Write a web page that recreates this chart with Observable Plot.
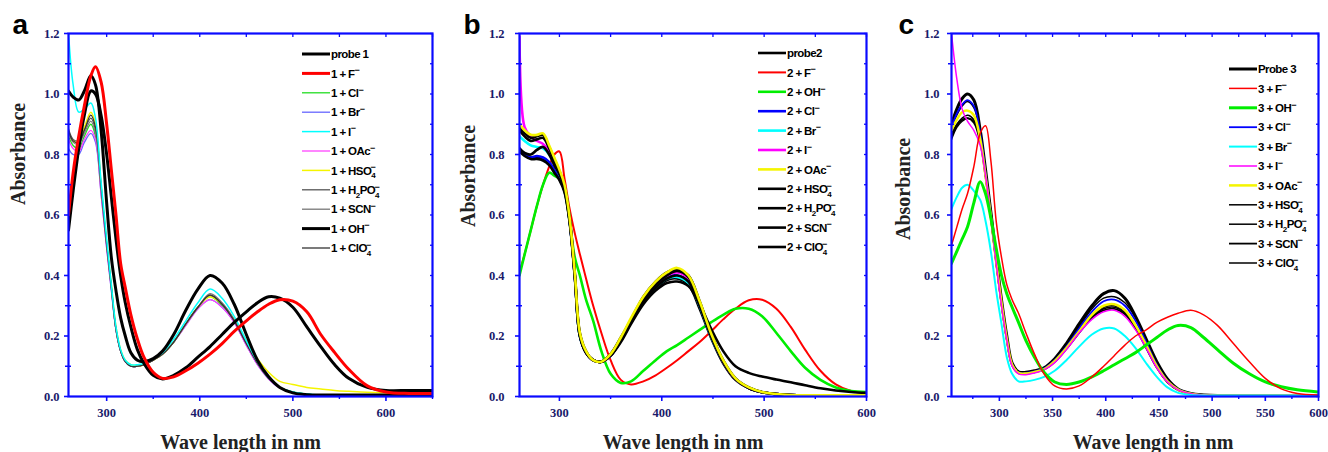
<!DOCTYPE html>
<html><head><meta charset="utf-8">
<script src="https://cdn.jsdelivr.net/npm/d3@7"></script>
<script src="https://cdn.jsdelivr.net/npm/@observablehq/plot@0.6"></script>
<style>
html,body{margin:0;padding:0;background:#fff;}
#wrap{position:relative;width:1328px;height:452px;overflow:hidden;background:#fff;}
.panel{position:absolute;top:0;height:452px;}
.panel svg{position:absolute;left:0;top:0;overflow:visible;}
</style></head><body><div id="wrap"></div>
<script>
// ---------- axis ticks ----------
const yMajor = [0, 0.2, 0.4, 0.6, 0.8, 1.0, 1.2];
const yMinor = [0.1, 0.3, 0.5, 0.7, 0.9, 1.1];
const xMajorA = [300, 400, 500, 600], xMinorA = [350, 450, 550, 650];
const xMajorB = [300, 400, 500, 600], xMinorB = [350, 450, 550];
const xMajorC = [300, 350, 400, 450, 500, 550, 600], xMinorC = [275, 325, 375, 425, 475, 525, 575];
const xLabel = "Wave length in nm", yLabel = "Absorbance";

// ---------- panel a ----------
const wlA = [259,264,270,276,283,288,294,300,305,310,315,320,326,333,340,350,360,372,385,398,411,424,437,450,462,474,486,500,515,530,545,560,580,600,625,650];
const namesA = ["probe 1","1 + F^−","1 + Cl^−","1 + Br^−","1 + I^−","1 + OAc^−","1 + HSO_4^−","1 + H_2PO_4^−","1 + SCN^−","1 + OH^−","1 + ClO_4^−"];
const a_probe = [1.01,0.99,0.98,1.01,1.06,1.03,0.88,0.64,0.46,0.35,0.26,0.20,0.145,0.12,0.115,0.125,0.15,0.205,0.285,0.355,0.40,0.375,0.305,0.205,0.12,0.065,0.03,0.012,0.006,0.005,0.005,0.005,0.005,0.005,0.005,0.005];
const a_F = [0.60,0.74,0.86,0.96,1.06,1.09,1.04,0.90,0.75,0.60,0.44,0.36,0.27,0.19,0.13,0.08,0.06,0.065,0.085,0.11,0.14,0.175,0.215,0.25,0.28,0.305,0.32,0.315,0.28,0.205,0.145,0.09,0.035,0.015,0.01,0.01];
const a_Cl = [0.86,0.83,0.82,0.86,0.90,0.86,0.68,0.50,0.36,0.22,0.15,0.115,0.10,0.10,0.105,0.12,0.14,0.18,0.24,0.295,0.33,0.30,0.25,0.175,0.11,0.06,0.03,0.015,0.008,0.005,0.004,0.004,0.004,0.004,0.004,0.004];
const a_Br = [0.82,0.80,0.80,0.84,0.87,0.84,0.67,0.49,0.35,0.22,0.15,0.115,0.10,0.10,0.105,0.12,0.14,0.18,0.235,0.29,0.32,0.295,0.245,0.17,0.105,0.058,0.028,0.013,0.007,0.005,0.004,0.004,0.004,0.004,0.004,0.004];
const a_I = [1.20,1.03,0.94,0.95,0.97,0.92,0.71,0.52,0.37,0.23,0.155,0.12,0.105,0.105,0.11,0.125,0.145,0.19,0.25,0.31,0.355,0.325,0.265,0.185,0.115,0.062,0.03,0.015,0.008,0.005,0.004,0.004,0.004,0.004,0.004,0.004];
const a_OAc = [0.85,0.82,0.81,0.85,0.88,0.85,0.67,0.49,0.355,0.22,0.15,0.115,0.10,0.10,0.105,0.12,0.14,0.18,0.235,0.29,0.32,0.295,0.245,0.17,0.105,0.058,0.028,0.013,0.007,0.005,0.004,0.004,0.004,0.004,0.004,0.004];
const a_HSO4 = [0.87,0.845,0.84,0.89,0.94,0.90,0.70,0.51,0.37,0.23,0.155,0.12,0.105,0.10,0.105,0.12,0.14,0.18,0.24,0.295,0.33,0.305,0.255,0.185,0.125,0.08,0.05,0.04,0.03,0.025,0.02,0.017,0.014,0.012,0.01,0.01];
const a_H2PO4 = [0.885,0.85,0.845,0.88,0.92,0.88,0.69,0.50,0.36,0.22,0.15,0.115,0.10,0.10,0.105,0.12,0.14,0.18,0.24,0.295,0.335,0.305,0.25,0.175,0.11,0.06,0.03,0.015,0.008,0.005,0.004,0.004,0.004,0.004,0.004,0.004];
const a_SCN = [0.875,0.84,0.835,0.87,0.91,0.87,0.685,0.50,0.36,0.22,0.15,0.115,0.10,0.10,0.105,0.12,0.14,0.18,0.24,0.295,0.34,0.31,0.255,0.18,0.11,0.06,0.03,0.015,0.008,0.005,0.004,0.004,0.004,0.004,0.004,0.004];
const a_OH = [0.55,0.68,0.82,0.93,1.01,1.00,0.93,0.80,0.66,0.52,0.40,0.31,0.23,0.155,0.11,0.07,0.058,0.07,0.095,0.13,0.165,0.205,0.245,0.28,0.31,0.33,0.325,0.295,0.23,0.165,0.105,0.06,0.03,0.02,0.02,0.02];
const a_ClO4 = [0.88,0.845,0.84,0.88,0.93,0.89,0.70,0.505,0.365,0.225,0.15,0.115,0.10,0.10,0.105,0.12,0.14,0.18,0.24,0.295,0.335,0.305,0.25,0.175,0.11,0.06,0.03,0.015,0.008,0.005,0.004,0.004,0.004,0.004,0.004,0.004];

// ---------- panel b ----------
const wlB = [261,266,272,278,284,290,295,300,305,310,315,320,326,333,341,350,360,370,382,394,405,415,426,437,448,460,472,485,498,512,526,540,555,570,585,600];
const namesB = ["probe2","2 + F^−","2 + OH^−","2 + Cl^−","2 + Br^−","2 + I^−","2 + OAc^−","2 + HSO_4^−","2 + H_2PO_4^−","2 + SCN^−","2 + ClO_4^−"];
const b_probe = [0.815,0.80,0.79,0.79,0.785,0.77,0.745,0.72,0.68,0.58,0.40,0.20,0.145,0.12,0.115,0.135,0.185,0.245,0.31,0.355,0.385,0.39,0.37,0.29,0.195,0.11,0.055,0.028,0.014,0.008,0.005,0.004,0.004,0.004,0.004,0.004];
const b_F = [0.41,0.47,0.55,0.63,0.70,0.76,0.80,0.81,0.72,0.62,0.54,0.47,0.39,0.30,0.21,0.12,0.055,0.04,0.05,0.07,0.095,0.12,0.15,0.18,0.215,0.255,0.29,0.318,0.32,0.29,0.23,0.155,0.085,0.04,0.018,0.012];
const b_OH = [0.40,0.47,0.55,0.63,0.70,0.74,0.73,0.72,0.68,0.58,0.46,0.40,0.32,0.25,0.15,0.075,0.045,0.05,0.085,0.12,0.15,0.17,0.195,0.22,0.245,0.27,0.29,0.29,0.265,0.21,0.15,0.095,0.055,0.03,0.018,0.015];
const b_Cl = [0.82,0.80,0.79,0.795,0.79,0.775,0.75,0.725,0.685,0.58,0.40,0.20,0.145,0.12,0.115,0.135,0.19,0.25,0.315,0.365,0.395,0.40,0.38,0.30,0.20,0.115,0.058,0.028,0.014,0.008,0.005,0.004,0.004,0.004,0.004,0.004];
const b_Br = [0.86,0.845,0.83,0.825,0.82,0.80,0.77,0.735,0.69,0.58,0.40,0.20,0.145,0.12,0.115,0.135,0.19,0.25,0.315,0.36,0.39,0.395,0.375,0.30,0.20,0.115,0.058,0.028,0.014,0.008,0.005,0.004,0.004,0.004,0.004,0.004];
const b_I = [1.19,0.89,0.86,0.845,0.835,0.81,0.775,0.74,0.69,0.585,0.40,0.205,0.145,0.12,0.115,0.135,0.19,0.25,0.32,0.37,0.40,0.41,0.39,0.31,0.205,0.115,0.058,0.028,0.014,0.008,0.005,0.004,0.004,0.004,0.004,0.004];
const b_OAc = [0.90,0.88,0.865,0.865,0.87,0.83,0.79,0.75,0.70,0.59,0.41,0.21,0.15,0.12,0.115,0.14,0.195,0.26,0.33,0.38,0.41,0.425,0.40,0.315,0.21,0.12,0.06,0.03,0.015,0.008,0.005,0.004,0.004,0.004,0.004,0.004];
const b_HSO4 = [0.89,0.87,0.855,0.86,0.865,0.825,0.785,0.745,0.695,0.59,0.41,0.21,0.15,0.12,0.115,0.14,0.195,0.255,0.33,0.38,0.41,0.42,0.40,0.315,0.21,0.12,0.06,0.03,0.015,0.008,0.005,0.004,0.004,0.004,0.004,0.004];
const b_H2PO4 = [0.88,0.86,0.845,0.85,0.855,0.82,0.78,0.74,0.695,0.585,0.405,0.205,0.145,0.12,0.115,0.14,0.19,0.25,0.32,0.37,0.40,0.415,0.395,0.31,0.205,0.115,0.058,0.028,0.014,0.008,0.005,0.004,0.004,0.004,0.004,0.004];
const b_SCN = [0.82,0.805,0.80,0.815,0.825,0.80,0.765,0.735,0.69,0.58,0.40,0.20,0.145,0.12,0.115,0.135,0.185,0.245,0.315,0.36,0.39,0.40,0.38,0.30,0.20,0.115,0.058,0.028,0.014,0.008,0.005,0.004,0.004,0.004,0.004,0.004];
const b_ClO4 = [0.81,0.795,0.785,0.785,0.78,0.765,0.74,0.715,0.675,0.575,0.395,0.20,0.145,0.12,0.115,0.135,0.18,0.24,0.305,0.35,0.375,0.38,0.365,0.305,0.225,0.15,0.10,0.078,0.066,0.056,0.047,0.037,0.027,0.02,0.015,0.012];

// ---------- panel c ----------
const wlC = [255,260,265,270,276,282,287,292,297,302,307,312,318,325,333,342,352,363,375,387,398,408,418,428,438,448,458,468,480,492,505,520,535,550,565,580,600];
const namesC = ["Probe 3","3 + F^−","3 + OH^−","3 + Cl^−","3 + Br^−","3 + I^−","3 + OAc^−","3 + HSO_4^−","3 + H_2PO_4^−","3 + SCN^−","3 + ClO_4^−"];
const c_probe = [0.90,0.95,0.985,1.00,0.98,0.88,0.75,0.61,0.46,0.32,0.20,0.11,0.082,0.08,0.085,0.095,0.125,0.175,0.24,0.30,0.34,0.35,0.325,0.265,0.19,0.115,0.058,0.025,0.01,0.005,0.003,0.003,0.003,0.003,0.003,0.003,0.003];
const c_F = [0.50,0.56,0.62,0.67,0.76,0.87,0.895,0.78,0.58,0.46,0.37,0.32,0.275,0.21,0.14,0.075,0.035,0.025,0.035,0.065,0.10,0.135,0.17,0.20,0.22,0.245,0.262,0.275,0.285,0.27,0.235,0.175,0.115,0.06,0.025,0.01,0.005];
const c_OH = [0.44,0.48,0.52,0.56,0.64,0.71,0.67,0.59,0.49,0.40,0.34,0.295,0.245,0.185,0.13,0.08,0.048,0.04,0.048,0.065,0.085,0.105,0.125,0.145,0.17,0.195,0.22,0.235,0.228,0.195,0.155,0.11,0.075,0.048,0.032,0.022,0.015];
const c_Cl = [0.89,0.935,0.965,0.98,0.96,0.87,0.74,0.60,0.45,0.31,0.19,0.105,0.08,0.078,0.083,0.093,0.12,0.165,0.225,0.28,0.315,0.32,0.30,0.25,0.18,0.105,0.052,0.024,0.01,0.005,0.003,0.003,0.003,0.003,0.003,0.003,0.003];
const c_Br = [0.62,0.66,0.69,0.70,0.68,0.65,0.58,0.48,0.35,0.24,0.13,0.075,0.05,0.05,0.055,0.065,0.085,0.12,0.165,0.205,0.225,0.225,0.20,0.16,0.11,0.065,0.03,0.012,0.005,0.003,0.003,0.003,0.003,0.003,0.003,0.003,0.003];
const c_I = [1.20,1.05,0.95,0.91,0.88,0.83,0.73,0.59,0.44,0.30,0.185,0.10,0.075,0.072,0.078,0.088,0.112,0.155,0.21,0.255,0.28,0.285,0.265,0.22,0.16,0.095,0.048,0.022,0.009,0.004,0.003,0.003,0.003,0.003,0.003,0.003,0.003];
const c_OAc = [0.88,0.915,0.94,0.945,0.93,0.85,0.73,0.595,0.445,0.31,0.19,0.105,0.078,0.076,0.081,0.09,0.117,0.16,0.215,0.27,0.30,0.305,0.285,0.235,0.17,0.10,0.05,0.023,0.009,0.004,0.003,0.003,0.003,0.003,0.003,0.003,0.003];
const c_HSO4 = [0.89,0.93,0.96,0.975,0.955,0.87,0.745,0.605,0.455,0.315,0.195,0.108,0.081,0.079,0.084,0.094,0.122,0.17,0.23,0.29,0.325,0.33,0.31,0.26,0.185,0.108,0.053,0.024,0.01,0.005,0.003,0.003,0.003,0.003,0.003,0.003,0.003];
const c_H2PO4 = [0.87,0.90,0.92,0.93,0.915,0.845,0.73,0.595,0.445,0.31,0.19,0.105,0.078,0.076,0.081,0.09,0.116,0.16,0.215,0.265,0.295,0.30,0.28,0.23,0.165,0.098,0.048,0.022,0.009,0.004,0.003,0.003,0.003,0.003,0.003,0.003,0.003];
const c_SCN = [0.86,0.895,0.915,0.92,0.905,0.84,0.725,0.59,0.44,0.305,0.187,0.103,0.077,0.075,0.08,0.089,0.114,0.157,0.21,0.26,0.285,0.29,0.272,0.225,0.16,0.095,0.047,0.021,0.009,0.004,0.003,0.003,0.003,0.003,0.003,0.003,0.003];
const c_ClO4 = [0.85,0.89,0.91,0.92,0.91,0.845,0.73,0.592,0.442,0.307,0.188,0.104,0.078,0.076,0.08,0.09,0.115,0.158,0.212,0.262,0.29,0.295,0.276,0.228,0.162,0.096,0.048,0.022,0.009,0.004,0.003,0.003,0.003,0.003,0.003,0.003,0.003];

// ---------- styles (separate from data) ----------
const colorsA = ["#000","#ff0000","#22dd22","#6666ff","#00ffff","#ff44ff","#f5f500","#555","#777","#000","#333"];
const widthsA = [3,3,1.3,1.3,1.5,1.3,1.5,1.2,1.2,3,1.2];
const colorsB = ["#000","#ff0000","#00ee00","#0000ff","#00ffff","#ff00ff","#f5f500","#000","#000","#000","#000"];
const widthsB = [2.6,2,2.6,2.6,2.6,2.6,2.6,2.6,2.6,2.6,2.6];
const colorsC = ["#000","#ff0000","#00ee00","#0000ff","#00ffff","#ff00ff","#f5f500","#000","#000","#000","#000"];
const widthsC = [3,1.5,3,1.8,2,1.5,2.5,1.5,1.5,1.8,1.5];

const panels = [
  {letter:"a", left:0, width:440, mL:68, mR:8, domain:[259,650], xMajor:xMajorA, xMinor:xMinorA, wl:wlA, names:namesA,
   values:[a_probe,a_F,a_Cl,a_Br,a_I,a_OAc,a_HSO4,a_H2PO4,a_SCN,a_OH,a_ClO4], colors:colorsA, widths:widthsA,
   order:[2,3,5,6,7,8,10,4,9,0,1], leg:{x:302, y:54}, yLabDx:-50, yLabDy:-10, xLabDx:-10, letDx:-56, yPad:5},
  {letter:"b", left:440, width:440, mL:79, mR:14, domain:[261,600], xMajor:xMajorB, xMinor:xMinorB, wl:wlB, names:namesB,
   values:[b_probe,b_F,b_OH,b_Cl,b_Br,b_I,b_OAc,b_HSO4,b_H2PO4,b_SCN,b_ClO4], colors:colorsB, widths:widthsB,
   order:[1,2,0,3,4,5,9,10,8,7,6], leg:{x:318, y:53}, yLabDx:-51, yLabDy:12, xLabDx:-10, letDx:-56, yPad:11},
  {letter:"c", left:880, width:448, mL:71, mR:10, domain:[255,600], xMajor:xMajorC, xMinor:xMinorC, wl:wlC, names:namesC,
   values:[c_probe,c_F,c_OH,c_Cl,c_Br,c_I,c_OAc,c_HSO4,c_H2PO4,c_SCN,c_ClO4], colors:colorsC, widths:widthsC,
   order:[7,8,9,10,0,3,6,5,4,2,1], leg:{x:349, y:69}, yLabDx:-48, yLabDy:25, xLabDx:18, letDx:-53, yPad:8}
];

const blue = "#0a0aff", navy = "#1a1a6a";
const fmtY = d3.format(".1f");
const blank = () => "";

function addLegend(div, p) {
  const svg = d3.select(div).append("svg").attr("width", p.width).attr("height", 452)
    .style("pointer-events", "none");
  const step = 19.4;
  p.names.forEach((name, i) => {
    const y = p.leg.y + i * step;
    svg.append("line").attr("x1", p.leg.x).attr("x2", p.leg.x + 28).attr("y1", y).attr("y2", y)
      .attr("stroke", p.colors[i]).attr("stroke-width", Math.max(p.widths[i], 1.3));
    const t = svg.append("text").attr("x", p.leg.x + 29).attr("y", y + 4.2)
      .attr("font-family", "Liberation Sans, Arial, sans-serif").attr("font-weight", "bold")
      .attr("font-size", 11.5).attr("letter-spacing", "-0.6").attr("fill", "#000");
    // parse _x (subscript) and ^x (superscript)
    const parts = name.split(/(_.|\^.)/).filter(s => s.length);
    let cur = 0, prevSub = false;
    parts.forEach(s => {
      let target = 0, txt = s, size = 11.5, dx = 0;
      if (s[0] === "_") { target = 3.5; txt = s[1]; size = 8; }
      else if (s[0] === "^") { target = -4.5; txt = s[1]; size = 9; if (prevSub) dx = -4.5; }
      const ts = t.append("tspan").attr("dy", target - cur).attr("font-size", size).text(txt);
      if (dx) ts.attr("dx", dx);
      cur = target;
      prevSub = s[0] === "_";
    });
  });
}

const wrap = document.getElementById("wrap");
panels.forEach(p => {
  const div = document.createElement("div");
  div.className = "panel";
  div.style.left = p.left + "px";
  div.style.width = p.width + "px";
  wrap.appendChild(div);
  const rows = p.values.flatMap((vals, k) => p.wl.map((w, j) => ({wl: w, a: vals[j], k})));
  const lines = p.order.map(k => Plot.line(rows.filter(r => r.k === k), {
    x: "wl", y: "a", stroke: p.colors[k], strokeWidth: p.widths[k], curve: "catmull-rom", clip: true
  }));
  const chart = Plot.plot({
    width: p.width, height: 452,
    marginLeft: p.mL, marginRight: p.mR, marginTop: 33, marginBottom: 56,
    x: {domain: p.domain}, y: {domain: [0, 1.2]},
    style: {background: "transparent", fontFamily: "Liberation Serif, serif", overflow: "visible"},
    marks: [
      ...lines,
      Plot.frame({stroke: blue, strokeWidth: 2.2}),
      Plot.axisY({ticks: yMajor, tickSize: 4, tickPadding: p.yPad, tickFormat: fmtY, stroke: blue, strokeWidth: 1.6,
        fill: navy, fontSize: 12.5, fontWeight: "bold", fontFamily: "Liberation Serif, serif", label: null}),
      Plot.axisY({ticks: yMinor, tickSize: 6, dx: 3, tickFormat: blank, stroke: blue, strokeWidth: 1.5, label: null}),
      Plot.axisY({anchor: "right", ticks: [...yMajor, ...yMinor], tickSize: 3, dx: -3, tickFormat: blank, stroke: blue, strokeWidth: 1.3, label: null}),
      Plot.axisX({ticks: p.xMajor, tickSize: 5, tickPadding: 7, tickFormat: d => String(d), stroke: blue, strokeWidth: 1.6,
        fill: navy, fontSize: 12.5, fontWeight: "bold", fontFamily: "Liberation Serif, serif", label: null}),
      Plot.axisX({ticks: p.xMinor, tickSize: 3, tickFormat: blank, stroke: blue, strokeWidth: 1.4, label: null}),
      Plot.axisX({anchor: "top", ticks: [...p.xMajor, ...p.xMinor], tickSize: 3, dy: 3, tickFormat: blank, stroke: blue, strokeWidth: 1.3, label: null}),
      Plot.text([xLabel], {text: d => d, frameAnchor: "bottom", lineAnchor: "bottom", dy: 52, dx: p.xLabDx,
        fontSize: 20, fontWeight: "bold", fontFamily: "Liberation Serif, serif", fill: "#222"}),
      Plot.text([yLabel], {text: d => d, frameAnchor: "left", rotate: -90, dx: p.yLabDx, dy: p.yLabDy,
        fontSize: 20, fontWeight: "bold", fontFamily: "Liberation Serif, serif", fill: "#222"}),
      Plot.text([p.letter], {text: d => d, frameAnchor: "top-left", textAnchor: "start", lineAnchor: "bottom", dx: p.letDx, dy: 0,
        fontSize: 28, fontWeight: "bold", fontFamily: "Liberation Sans, Arial, sans-serif", fill: "#000"})
    ]
  });
  div.appendChild(chart);
  addLegend(div, p);
});
</script></body></html>
